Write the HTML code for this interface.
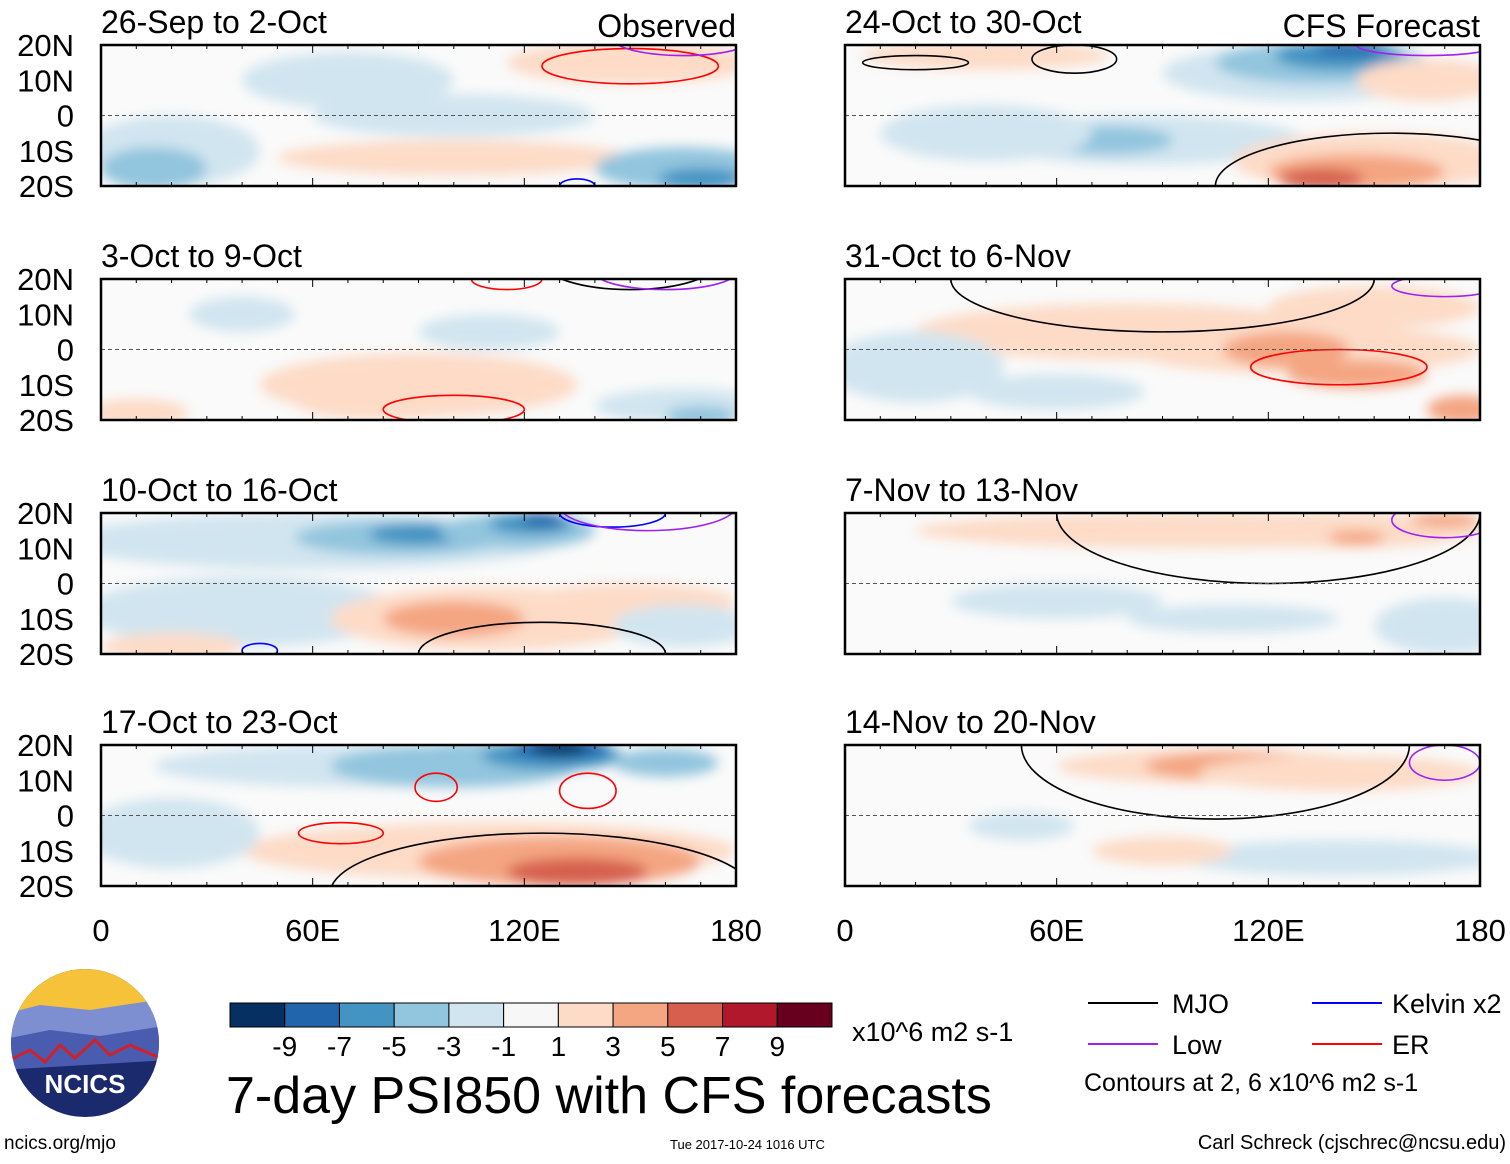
<!DOCTYPE html>
<html><head><meta charset="utf-8">
<style>
body{margin:0;background:#fff;font-family:"Liberation Sans",sans-serif;}
svg text{font-family:"Liberation Sans",sans-serif;}
</style></head>
<body>
<svg id="chart" width="1510" height="1159" viewBox="0 0 1510 1159" xmlns="http://www.w3.org/2000/svg">
<defs>
<filter id="soft" x="-30%" y="-30%" width="160%" height="160%"><feGaussianBlur stdDeviation="6"/></filter>
</defs>
<g id="panels"></g>
<g id="colorbar"></g>
<g id="legend">
  <line x1="1088" y1="1003" x2="1158" y2="1003" stroke="#000" stroke-width="2"/>
  <text x="1172" y="1013" font-size="27">MJO</text>
  <line x1="1312" y1="1003" x2="1382" y2="1003" stroke="#0000ff" stroke-width="2"/>
  <text x="1392" y="1013" font-size="27">Kelvin x2</text>
  <line x1="1088" y1="1044" x2="1158" y2="1044" stroke="#a020f0" stroke-width="2"/>
  <text x="1172" y="1054" font-size="27">Low</text>
  <line x1="1312" y1="1044" x2="1382" y2="1044" stroke="#ff0000" stroke-width="2"/>
  <text x="1392" y="1054" font-size="27">ER</text>
  <text x="1084" y="1091" font-size="25">Contours at 2, 6 x10^6 m2 s-1</text>
</g>
<text x="226" y="1113" font-size="52">7-day PSI850 with CFS forecasts</text>
<text x="852" y="1041" font-size="27">x10^6 m2 s-1</text>
<text x="4" y="1149" font-size="19">ncics.org/mjo</text>
<text x="670" y="1149" font-size="13">Tue 2017-10-24 1016 UTC</text>
<text x="1506" y="1149" font-size="20" text-anchor="end">Carl Schreck (cjschrec@ncsu.edu)</text>
<g>
  <clipPath id="lc"><circle cx="85" cy="1043" r="74"/></clipPath>
  <g clip-path="url(#lc)">
    <rect x="0" y="960" width="170" height="170" fill="#1a2a6c"/>
    <rect x="0" y="960" width="170" height="55" fill="#f5c23a"/>
    <path d="M0 1015 L40 1005 L90 1010 L170 998 L170 1040 L0 1050Z" fill="#7d8fd0"/>
    <path d="M0 1040 L50 1030 L100 1036 L170 1025 L170 1060 L0 1070Z" fill="#4a5cb0"/>
    <path d="M10 1060 L30 1050 L45 1062 L60 1045 L75 1058 L95 1040 L110 1055 L130 1045 L160 1058" stroke="#d0202a" stroke-width="3" fill="none"/>
  </g>
  <text x="85" y="1093" font-size="26" font-weight="bold" fill="#fff" text-anchor="middle">NCICS</text>
</g>
</svg>
<script>
const NS="http://www.w3.org/2000/svg";
const levelColors=["#053061","#2166ac","#4393c3","#92c5de","#d1e5f0","#f7f7f7","#fddbc7","#f4a582","#d6604d","#b2182b","#67001f"];
const levelLabels=["-9","-7","-5","-3","-1","1","3","5","7","9"];
const panelTitles=["26-Sep to 2-Oct","3-Oct to 9-Oct","10-Oct to 16-Oct","17-Oct to 23-Oct","24-Oct to 30-Oct","31-Oct to 6-Nov","7-Nov to 13-Nov","14-Nov to 20-Nov"];
const latTicks=[20,10,0,-10,-20];
const latLabels=["20N","10N","0","10S","20S"];
const lonTicks=[0,60,120,180];
const lonLabels=["0","60E","120E","180"];
// anomaly blobs per panel: [lon, lat, lonRadius, latRadius, colorIndex]
const blobs0=[[20,-10,25,10,4],[15,-15,15,6,3],[100,0,40,6,4],[100,-12,50,5,6],[150,15,35,6,6],[165,-15,25,6,3],[170,-18,12,3,2],[70,10,30,8,4]];
const blobs1=[[90,-10,45,9,6],[80,-15,25,5,6],[165,-16,25,5,4],[170,-19,10,3,3],[10,-18,15,4,6],[110,5,20,5,4],[40,10,15,5,4]];
const blobs2=[[60,12,70,8,4],[85,13,30,5,3],[90,14,14,3,2],[118,15,22,5,3],[122,17,12,3,2],[125,18,6,2,1],[40,-8,45,10,4],[110,-10,45,9,6],[100,-10,20,5,7],[150,-5,30,5,6],[165,-12,20,6,4],[20,-18,20,4,6]];
const blobs3=[[75,14,60,6,4],[100,14,35,6,3],[110,16,25,5,3],[128,17,20,4,2],[130,19,14,3,1],[130,19,8,2,0],[160,15,15,4,3],[110,-10,70,8,6],[130,-13,40,7,7],[135,-16,20,4,8],[20,-5,25,10,4]];
const blobs4=[[130,12,40,8,4],[135,15,30,6,3],[140,17,18,4,2],[143,19,10,2,1],[85,-7,45,7,4],[75,-7,18,4,3],[40,-5,30,8,4],[150,-13,40,8,6],[145,-16,25,5,7],[135,-18,12,3,8],[40,17,35,4,6],[165,10,20,6,6]];
const blobs5=[[80,5,60,8,6],[130,0,50,7,6],[125,0,18,5,7],[145,-7,20,4,7],[175,-17,10,4,7],[20,-5,25,10,4],[60,-12,25,5,4],[150,12,30,6,6]];
const blobs6=[[100,15,80,5,6],[140,15,40,5,6],[145,13,8,2,7],[170,-12,20,8,4],[110,-10,30,4,4],[60,-5,30,5,4],[170,18,10,2,7]];
const blobs7=[[105,14,45,5,6],[110,14,25,4,7],[140,12,40,5,6],[140,-12,45,5,4],[50,-3,15,4,4],[90,-10,20,4,6]];
const allBlobs=[blobs0,blobs1,blobs2,blobs3,blobs4,blobs5,blobs6,blobs7];
// contours: [lon, lat, lonRadius, latRadius, color]
const contours0=[[150,14,25,5,"#ff0000"],[165,22,20,5,"#a020f0"],[135,-20,5,2,"#0000ff"]];
const contours1=[[115,20,10,3,"#ff0000"],[100,-17,20,4,"#ff0000"],[150,25,25,8,"#000"],[160,22,20,5,"#a020f0"]];
const contours2=[[145,20,15,4,"#0000ff"],[125,-20,35,9,"#000"],[45,-19,5,2,"#0000ff"],[155,22,25,7,"#a020f0"]];
const contours3=[[95,8,6,4,"#ff0000"],[138,7,8,5,"#ff0000"],[68,-5,12,3,"#ff0000"],[125,-22,60,17,"#000"]];
const contours4=[[20,15,15,2,"#000"],[65,16,12,4,"#000"],[155,-20,50,15,"#000"],[165,20,20,3,"#a020f0"]];
const contours5=[[140,-5,25,5,"#ff0000"],[90,20,60,15,"#000"],[170,18,15,3,"#a020f0"]];
const contours6=[[120,20,60,20,"#000"],[170,18,15,5,"#a020f0"]];
const contours7=[[105,20,55,21,"#000"],[170,15,10,5,"#a020f0"]];
const allContours=[contours0,contours1,contours2,contours3,contours4,contours5,contours6,contours7];

const colX=[101,845], rowY=[45,279,513,745], PW=635, PH=141;
function mk(tag,attrs,parent){const e=document.createElementNS(NS,tag);for(const k in attrs)e.setAttribute(k,attrs[k]);parent.appendChild(e);return e;}
const panelsG=document.getElementById('panels');
for(let p=0;p<8;p++){
  const x0=colX[Math.floor(p/4)], y0=rowY[p%4];
  const xs=lon=>x0+lon/180*PW, ys=lat=>y0+(20-lat)/40*PH;
  const g=mk('g',{},panelsG);
  
  
  const clip=mk('clipPath',{id:'cp'+p},g);
  mk('rect',{x:x0,y:y0,width:PW,height:PH},clip);
  const inner=mk('g',{'clip-path':'url(#cp'+p+')'},g);
  mk('rect',{x:x0,y:y0,width:PW,height:PH,fill:'#fafafa'},inner);
  const bg=mk('g',{filter:'url(#soft)'},inner);
  allBlobs[p].forEach(b=>{
    const e=mk('ellipse',{cx:xs(b[0]),cy:ys(b[1]),rx:b[2]/180*PW,ry:b[3]/40*PH,fill:levelColors[b[4]]},bg);
    
    
  });
  allContours[p].forEach(c=>{
    const e=mk('ellipse',{cx:xs(c[0]),cy:ys(c[1]),rx:c[2]/180*PW,ry:c[3]/40*PH,fill:'none',stroke:c[4],'stroke-width':1.6},inner);
    
    
  });
  mk('line',{x1:x0,y1:ys(0),x2:x0+PW,y2:ys(0),stroke:'#555','stroke-dasharray':'4,3','stroke-width':1},inner);
  mk('rect',{x:x0,y:y0,width:PW,height:PH,fill:'none',stroke:'#000','stroke-width':2.5},g);
  for(let l=0;l<=180;l+=10){
    const len=(l%60===0)?8:4;
    mk('line',{x1:xs(l),y1:y0,x2:xs(l),y2:y0+len,stroke:'#000'},g);
    mk('line',{x1:xs(l),y1:y0+PH,x2:xs(l),y2:y0+PH-len,stroke:'#000'},g);
  }
  const t=mk('text',{x:x0,y:y0-12,'font-size':32,textLength:0},g);t.textContent=panelTitles[p];t.removeAttribute('textLength');
  
  
  if(p===0||p===4){const s=mk('text',{x:x0+PW,y:y0-8,'font-size':32,'text-anchor':'end'},g);s.textContent=p===0?'Observed':'CFS Forecast';
    
    }
  if(p<4){latTicks.forEach((la,i)=>{const tt=mk('text',{x:74,y:ys(la)+11,'font-size':31,'text-anchor':'end'},g);tt.textContent=latLabels[i];
    
    });}
  if(p%4===3){lonTicks.forEach((lo,i)=>{const tt=mk('text',{x:xs(lo),y:941,'font-size':31,'text-anchor':'middle'},g);tt.textContent=lonLabels[i];
    
    });}
}
const cb=document.getElementById('colorbar');


const cbx=230,cby=1003,cbw=602/levelColors.length,cbh=24;
levelColors.forEach((c,i)=>{const r=mk('rect',{x:cbx+i*cbw,y:cby,width:cbw,height:cbh,fill:c,stroke:'#000','stroke-width':1},cb);
  
  });
levelLabels.forEach((l,i)=>{const t=mk('text',{x:cbx+(i+1)*cbw,y:1056,'font-size':28,'text-anchor':'middle'},cb);t.textContent=l;
  
  });
</script>
</body></html>
